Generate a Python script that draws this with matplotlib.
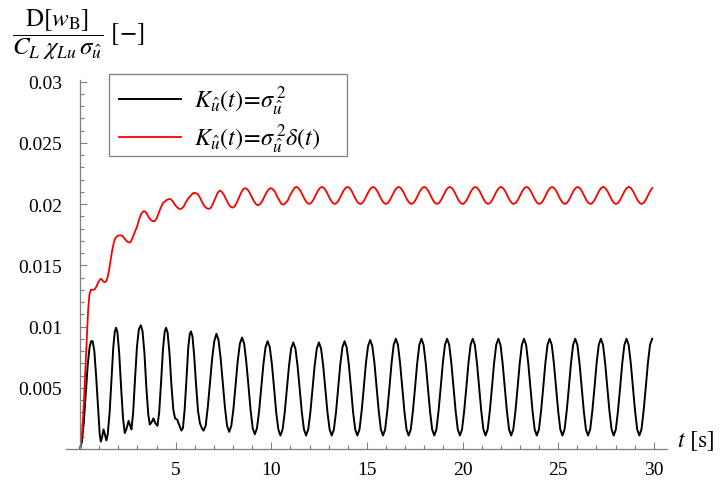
import numpy as np
import matplotlib
matplotlib.use('agg')
import matplotlib.pyplot as plt
from matplotlib.patches import Rectangle
from matplotlib.ticker import FixedLocator, MultipleLocator

plt.rcParams['font.family'] = 'Liberation Serif'
plt.rcParams['mathtext.fontset'] = 'stix'

# variance of the bridge response, white-noise gust spectrum (black)
black_t0 = [0.0, 0.1, 0.2, 0.3, 0.4, 0.5, 0.58, 0.66, 0.75, 0.85,
            0.95, 1.03, 1.09, 1.16, 1.23, 1.3, 1.38, 1.45, 1.55, 1.65,
            1.74, 1.82, 1.89, 1.96, 2.05, 2.15, 2.25, 2.34, 2.44, 2.54,
            2.62, 2.69, 2.78, 2.88, 2.98, 3.08, 3.18, 3.27, 3.37, 3.47,
            3.57, 3.65, 3.75, 3.84, 3.94, 4.05, 4.14, 4.24, 4.34, 4.43,
            4.5, 4.58, 4.68, 4.78, 4.88, 4.97, 5.08, 5.2, 5.3, 5.38,
            5.47, 5.57, 5.66, 5.74, 5.8, 5.88, 5.97, 6.07, 6.17, 6.27,
            6.37, 6.46, 6.57, 6.68, 6.8, 6.91, 7.02]
black_v0 = [0.0, 0.0006, 0.0022, 0.0045, 0.0068, 0.0083, 0.0088, 0.0088, 0.0080, 0.0058,
            0.0032, 0.0012, 0.0006, 0.0010, 0.0016, 0.0012, 0.0007, 0.0012, 0.0030, 0.0058,
            0.0083, 0.0096, 0.0099, 0.0095, 0.0078, 0.0050, 0.0025, 0.0013, 0.0017, 0.0023,
            0.0019, 0.0016, 0.0030, 0.0058, 0.0084, 0.0098, 0.0101, 0.0096, 0.0078, 0.0050,
            0.0028, 0.0020, 0.0022, 0.0025, 0.0021, 0.0019, 0.0030, 0.0055, 0.0082, 0.0096,
            0.0099, 0.0095, 0.0078, 0.0052, 0.0032, 0.0025, 0.0024, 0.0019, 0.0015, 0.0017,
            0.0032, 0.0058, 0.0083, 0.0094, 0.0096, 0.0092, 0.0076, 0.0052, 0.0031, 0.0021,
            0.0017, 0.0015, 0.0019, 0.0034, 0.0055, 0.0074, 0.0088]
# steady part, one row per oscillation, sampled every black_dt s from 7.13 s
black_start = 7.13
black_dt = 0.11167
black_v1 = [
    0.0094, 0.0089, 0.0074, 0.0054, 0.0034, 0.0019, 0.0014, 0.0019, 0.0033, 0.0053, 0.0072, 0.0086,
    0.0091, 0.0086, 0.0071, 0.0052, 0.0032, 0.0017, 0.0012, 0.0017, 0.0031, 0.0050, 0.0069, 0.0083,
    0.0088, 0.0083, 0.0069, 0.0050, 0.0030, 0.0016, 0.0011, 0.0016, 0.0030, 0.0049, 0.0068, 0.0082,
    0.0087, 0.0082, 0.0068, 0.0049, 0.0030, 0.0016, 0.0011, 0.0016, 0.0030, 0.0049, 0.0068, 0.0082,
    0.0087, 0.0082, 0.0068, 0.0049, 0.0030, 0.0016, 0.0011, 0.0016, 0.0030, 0.0050, 0.0069, 0.0083,
    0.0088, 0.0083, 0.0069, 0.0050, 0.0030, 0.0016, 0.0011, 0.0016, 0.0031, 0.0050, 0.0070, 0.0084,
    0.0089, 0.0084, 0.0070, 0.0050, 0.0031, 0.0016, 0.0011, 0.0016, 0.0031, 0.0050, 0.0070, 0.0085,
    0.0090, 0.0085, 0.0070, 0.0050, 0.0031, 0.0016, 0.0011, 0.0016, 0.0031, 0.0050, 0.0070, 0.0085,
    0.0090, 0.0085, 0.0070, 0.0050, 0.0031, 0.0016, 0.0011, 0.0016, 0.0031, 0.0050, 0.0070, 0.0085,
    0.0090, 0.0085, 0.0070, 0.0050, 0.0031, 0.0016, 0.0011, 0.0016, 0.0031, 0.0050, 0.0070, 0.0085,
    0.0090, 0.0085, 0.0070, 0.0050, 0.0031, 0.0016, 0.0011, 0.0016, 0.0031, 0.0050, 0.0070, 0.0085,
    0.0090, 0.0085, 0.0070, 0.0050, 0.0031, 0.0016, 0.0011, 0.0016, 0.0031, 0.0050, 0.0070, 0.0085,
    0.0090, 0.0085, 0.0070, 0.0050, 0.0031, 0.0016, 0.0011, 0.0016, 0.0031, 0.0050, 0.0070, 0.0085,
    0.0090, 0.0085, 0.0070, 0.0050, 0.0031, 0.0016, 0.0011, 0.0016, 0.0031, 0.0050, 0.0070, 0.0085,
    0.0090, 0.0085, 0.0070, 0.0050, 0.0031, 0.0016, 0.0011, 0.0016, 0.0031, 0.0050, 0.0070, 0.0085,
    0.0090, 0.0085, 0.0070, 0.0050, 0.0031, 0.0016, 0.0011, 0.0016, 0.0031, 0.0050, 0.0070, 0.0085,
    0.0090, 0.0085, 0.0070, 0.0050, 0.0031, 0.0016, 0.0011, 0.0016, 0.0031, 0.0050, 0.0070, 0.0085,
    0.0090,
]

# delta-correlated gust (red)
red_t0 = [0.0, 0.05, 0.1, 0.16, 0.22, 0.29, 0.36, 0.42, 0.49, 0.57,
          0.67, 0.78, 0.87, 0.95, 1.03, 1.09, 1.16, 1.23, 1.3, 1.37,
          1.44, 1.52, 1.6, 1.68, 1.76, 1.84, 1.96, 2.1, 2.22, 2.32,
          2.42, 2.52, 2.6, 2.68, 2.76, 2.86, 2.97, 3.08, 3.2, 3.3,
          3.4, 3.5, 3.6, 3.7, 3.8, 3.9, 4.0, 4.1, 4.22, 4.35,
          4.5, 4.62, 4.74, 4.86, 4.98, 5.1, 5.2, 5.3, 5.42, 5.55,
          5.68, 5.8, 5.92, 6.04, 6.16, 6.28, 6.4, 6.52, 6.63, 6.73,
          6.85, 6.97, 7.08, 7.19]
red_v0 = [0.0, 0.0003, 0.0012, 0.0026, 0.0044, 0.0068, 0.0092, 0.0112, 0.0126, 0.0130,
          0.0130, 0.01305, 0.0133, 0.0136, 0.0138, 0.0139, 0.0138, 0.01366, 0.01362, 0.0137,
          0.0140, 0.0146, 0.0154, 0.0162, 0.0168, 0.0172, 0.0174, 0.01745, 0.0174, 0.0172,
          0.0170, 0.01688, 0.01686, 0.0170, 0.0173, 0.0177, 0.0181, 0.0187, 0.0192, 0.0194,
          0.0194, 0.0192, 0.0189, 0.0187, 0.0186, 0.0186, 0.0188, 0.0192, 0.0197, 0.0201,
          0.0203, 0.0204, 0.0204, 0.0202, 0.0199, 0.0197, 0.0196, 0.0196, 0.0198, 0.0202,
          0.0205, 0.0207, 0.0209, 0.0209, 0.0208, 0.0205, 0.0201, 0.0198, 0.01965, 0.0196,
          0.0197, 0.0201, 0.0205, 0.0209]
red_start = 7.3
red_dt = 0.1114
red_v1 = [
    0.0211, 0.0210, 0.02075, 0.0204, 0.02005, 0.0198, 0.0197, 0.0198, 0.0201, 0.0205, 0.0209, 0.0212,
    0.0213, 0.0212, 0.02095, 0.0206, 0.02025, 0.0200, 0.0199, 0.0200, 0.02025, 0.0206, 0.02095, 0.0212,
    0.0213, 0.0212, 0.0210, 0.0206, 0.0203, 0.0200, 0.01995, 0.0201, 0.0203, 0.0207, 0.0210, 0.0213,
    0.0214, 0.0213, 0.02105, 0.0207, 0.02035, 0.0201, 0.0200, 0.0201, 0.02035, 0.0207, 0.02105, 0.0213,
    0.0214, 0.0213, 0.02105, 0.0207, 0.02035, 0.0201, 0.0200, 0.0201, 0.02035, 0.0207, 0.02105, 0.0213,
    0.0214, 0.0213, 0.02105, 0.0207, 0.02035, 0.0201, 0.0200, 0.0201, 0.02035, 0.0207, 0.02105, 0.0213,
    0.0214, 0.0213, 0.02105, 0.0207, 0.02035, 0.0201, 0.0200, 0.0201, 0.02035, 0.0207, 0.02105, 0.0213,
    0.0214, 0.0213, 0.02105, 0.0207, 0.02035, 0.0201, 0.0200, 0.0201, 0.02035, 0.0207, 0.02105, 0.0213,
    0.0214, 0.0213, 0.02105, 0.0207, 0.02035, 0.0201, 0.0200, 0.0201, 0.02035, 0.0207, 0.02105, 0.0213,
    0.0214, 0.0213, 0.02105, 0.0207, 0.02035, 0.0201, 0.0200, 0.0201, 0.02035, 0.0207, 0.02105, 0.0213,
    0.0214, 0.0213, 0.02105, 0.0207, 0.02035, 0.0201, 0.0200, 0.0201, 0.02035, 0.0207, 0.02105, 0.0213,
    0.0214, 0.0213, 0.02105, 0.0207, 0.02035, 0.0201, 0.0200, 0.0201, 0.02035, 0.0207, 0.02105, 0.0213,
    0.0214, 0.0213, 0.02105, 0.0207, 0.02035, 0.0201, 0.0200, 0.0201, 0.02035, 0.0207, 0.02105, 0.0213,
    0.0214, 0.0213, 0.02105, 0.0207, 0.02035, 0.0201, 0.0200, 0.0201, 0.02035, 0.0207, 0.02105, 0.0213,
    0.0214, 0.0213, 0.02105, 0.0207, 0.02035, 0.0201, 0.0200, 0.0201, 0.02035, 0.0207, 0.02105, 0.0213,
    0.0214, 0.0213, 0.02105, 0.0207, 0.02035, 0.0201, 0.0200, 0.0201, 0.02035, 0.0207, 0.02105, 0.0213,
    0.0214, 0.0213, 0.02105, 0.0207, 0.02035, 0.0201, 0.0200, 0.0201, 0.02035, 0.0207, 0.02105, 0.0213,
]

x_ticks = [5, 10, 15, 20, 25, 30]
y_ticks = [0.005, 0.01, 0.015, 0.02, 0.025, 0.03]
y_labels = ['0.005', '0.01', '0.015', '0.02', '0.025', '0.03']

labels = [r'$K_{\hat{u}}(t)\!=\!\sigma_{\hat{u}}^{\,2}$',
          r'$K_{\hat{u}}(t)\!=\!\sigma_{\hat{u}}^{\,2}\delta(t)$']


def series(t0, v0, start, dt, v1):
    t = np.concatenate([t0, start + dt * np.arange(len(v1))])
    return t, np.concatenate([v0, v1])


W, H = 723, 481
fig = plt.figure(figsize=(W / 100, H / 100), dpi=100)
# 19.13 px per second, t = 0 at x = 80 px
ax = fig.add_axes([65.65 / W, 31 / H, 601.6 / W, 368.7 / H])

tb, vb = series(black_t0, black_v0, black_start, black_dt, black_v1)
tr, vr = series(red_t0, red_v0, red_start, red_dt, red_v1)
ax.plot(tb, vb, color='black', lw=1.4, label=labels[0])
ax.plot(tr, vr, color='red', lw=1.3, label=labels[1])

ax.set_xlim(-0.75, 30.7)
ax.set_ylim(0, 0.0301)

axis_grey = '#7f7f7f'
for s in ('top', 'right'):
    ax.spines[s].set_visible(False)
ax.spines['left'].set_position(('data', 0))
ax.spines['bottom'].set_position(('data', 0))
for s in ('left', 'bottom'):
    ax.spines[s].set_color(axis_grey)
    ax.spines[s].set_linewidth(0.9)

ax.xaxis.set_major_locator(FixedLocator(x_ticks))
ax.xaxis.set_minor_locator(MultipleLocator(1))
ax.yaxis.set_major_locator(FixedLocator(y_ticks))
ax.yaxis.set_minor_locator(MultipleLocator(0.001))
ax.set_xticklabels([str(v) for v in x_ticks])
ax.set_yticklabels(y_labels)
ax.tick_params(which='both', direction='in', color=axis_grey, width=0.8,
               labelsize=14)
ax.tick_params(which='major', length=5)
ax.tick_params(which='minor', length=3)
ax.tick_params(axis='x', pad=8.5)
ax.tick_params(axis='y', pad=13)

# legend entries without frame; the box is drawn separately (wider on the right)
ax.legend(loc='upper left', bbox_to_anchor=(109 / W, 1 - 75 / H),
          bbox_transform=fig.transFigure, fontsize=17.5, frameon=False,
          handlelength=2.55, handletextpad=0.55, labelspacing=0.2,
          borderpad=0.4, borderaxespad=0)
ax.add_patch(Rectangle((109 / W, 1 - 157 / H), 238 / W, 82 / H,
                       transform=fig.transFigure, facecolor='white',
                       edgecolor=axis_grey, lw=0.9, clip_on=False, zorder=4))

fig.text(12 / W, 1 - 35 / H,
         r'$\dfrac{\mathrm{D}[w_{\mathrm{B}}]}{C_L\ \chi_{Lu}\,\sigma_{\hat{u}}}\ [-]$',
         fontsize=18, ha='left', va='center')
fig.text(677 / W, 1 - 441 / H, r'$t\ [\mathrm{s}]$', fontsize=17,
         ha='left', va='center')

fig.savefig('out.png', dpi=100)
